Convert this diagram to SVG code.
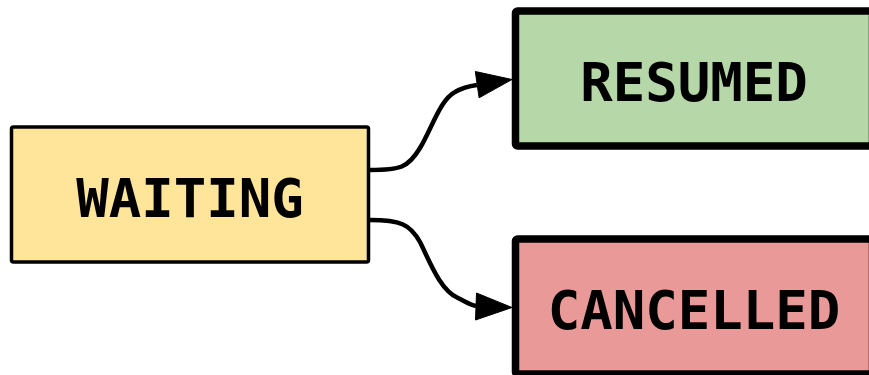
<svg xmlns="http://www.w3.org/2000/svg" width="869" height="375" viewBox="0 0 869 375">
<style>
.box{stroke:#000;stroke-linejoin:round}
.lbl{font-family:"DejaVu Sans Mono","Liberation Mono",monospace;font-weight:bold;font-size:54px;fill:#000;text-anchor:middle}
.edge{fill:none;stroke:#000;stroke-width:4.5}
.head{fill:#000;stroke:#000;stroke-width:1}
</style>
<rect width="869" height="375" fill="#fff"/>
<g id="connectors">
<path class="edge" d="M370,170 C400,170 408,168 420,148 C432,128 440,100 455,92 C462,88 470,86 477,85"/>
<polygon class="head" points="512,79.5 475.3,71.5 479.1,97.8"/>
<path class="edge" d="M370,220 C400,220 410,224 420,242 C430,262 440,290 458,298 C466,302 470,305 476,306"/>
<polygon class="head" points="512,307.5 476.5,293 475.5,320"/>
</g>
<g id="waiting">
<rect class="box" x="11.5" y="127" width="357" height="135" rx="2" fill="#ffe599" stroke-width="3.5"/>
<text class="lbl" x="190" y="216.5">WAITING</text>
</g>
<g id="resumed">
<rect class="box" x="515.5" y="11" width="357" height="135" rx="2" fill="#b6d7a8" stroke-width="7.5"/>
<text class="lbl" x="694" y="100.5">RESUMED</text>
</g>
<g id="cancelled">
<rect class="box" x="515.5" y="239" width="357" height="135" rx="2" fill="#ea9999" stroke-width="7.5"/>
<text class="lbl" x="694" y="328.5">CANCELLED</text>
</g>
</svg>
